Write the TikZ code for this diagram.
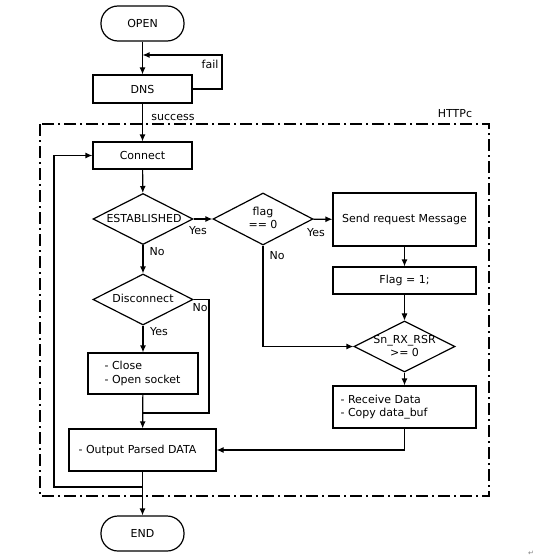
\documentclass[tikz,border=0pt]{standalone}
\usepackage{fontspec}
\setmainfont{DejaVu Sans}
\usetikzlibrary{shapes.geometric,arrows.meta}
\begin{document}
\begin{tikzpicture}[x=1pt,y=-1pt,
  font=\fontsize{11}{13.5}\selectfont,
  line width=1.2pt,
  arr/.style={-{Latex[length=7pt,width=6pt]}},
  box/.style={draw, rectangle, inner sep=0pt, minimum width=99pt, minimum height=28pt},
  term/.style={draw, rectangle, rounded corners=17pt, inner sep=0pt, minimum width=83pt, minimum height=35pt},
  dia/.style={draw, diamond, inner sep=0pt, minimum width=100pt, minimum height=51pt},
  lbl/.style={inner sep=0pt},
  frame/.style={draw, line width=1.3pt, dash pattern=on 12pt off 4pt on 2pt off 4pt}
]
\useasboundingbox (0,0) rectangle (545,559);

% frame
\draw[frame] (40,124) rectangle (489,496);
\node[lbl] (httpc) at (455,114) {HTTPc};

% nodes
\node[term] (open) at (142.5,23.5) {OPEN};
\node[box] (dns) at (142.5,89) {DNS};
\node[box, minimum height=27pt] (connect) at (142.5,155.5) {Connect};
\node[dia] (est) at (143,219) {};
\node[lbl] (estt) at (144,218) {ESTABLISHED};
\node[dia, minimum height=52pt] (flag) at (263,219) {};
\node[lbl, align=center] (flagt) at (263,218) {flag\\== 0};
\node[box, minimum width=143pt, minimum height=53pt] (send) at (404.5,219.5) {Send request Message};
\node[box, minimum width=143pt, minimum height=27pt] (flag1) at (404.5,280.5) {Flag = 1;};
\node[dia, minimum width=101pt] (sn) at (404.5,346.5) {};
\node[lbl, align=center] (snt) at (404.5,346) {Sn\_RX\_RSR\\>= 0};
\node[dia] (disc) at (143,299.5) {};
\node[lbl] (disct) at (143,298) {Disconnect};
\node[box, minimum width=110pt, minimum height=41pt] (close) at (143,373.5) {};
\node[lbl, align=left, anchor=west] (closet) at (104,373.5) {- Close\\- Open socket};
\node[box, minimum width=143pt, minimum height=42pt] (recv) at (404.5,407) {};
\node[lbl, align=left, anchor=west] (recvt) at (340,407) {- Receive Data\\- Copy data\_buf};
\node[box, minimum width=147pt, minimum height=42pt] (out) at (142.5,450) {};
\node[lbl, anchor=west] (outt) at (78,450) {- Output Parsed DATA};
\node[term] (end) at (142.5,533.5) {END};

% labels
\node[lbl] (fail) at (210,64) {fail};
\node[lbl] (succ) at (173,117) {success};
\node[lbl] (y1) at (198,231) {Yes};
\node[lbl] (y2) at (316,233) {Yes};
\node[lbl] (n1) at (157,252) {No};
\node[lbl] (n2) at (277,256) {No};
\node[lbl] (n3) at (200,308) {No};
\node[lbl] (y3) at (159,332) {Yes};
\node[lbl, text=gray, font=\fontsize{7}{8}\selectfont] (ret) at (531,553) {↵};

% coordinates
\coordinate (failc) at (222,55);
\coordinate (failin) at (142.5,55);
\coordinate (dr) at (209,413);
\coordinate (lp) at (54,487);

% connectors
\draw[arr] (open) -- (dns);
\draw[arr] (dns.east) -| (failc) -- (failin);
\draw[arr] (dns) -- (connect);
\draw[arr] (connect) -- (est);
\draw[arr] (est) -- (flag);
\draw[arr] (flag) -- (send);
\draw[arr] (send) -- (flag1);
\draw[arr, line width=0.7pt] (flag1) -- (sn);
\draw[arr] (flag.south) |- (sn.west);
\draw[arr] (est) -- (disc);
\draw[arr] (disc) -- (close);
\draw (disc.east) -| (dr) -- (dr -| out.north);
\draw[arr] (close) -- (out);
\draw[arr] (sn) -- (recv);
\draw[arr] (recv.south) |- (out.east);
\draw[arr] (out) -- (end);
\draw[arr] (out.south |- lp) -- (lp) |- (connect.west);
\end{tikzpicture}
\end{document}
